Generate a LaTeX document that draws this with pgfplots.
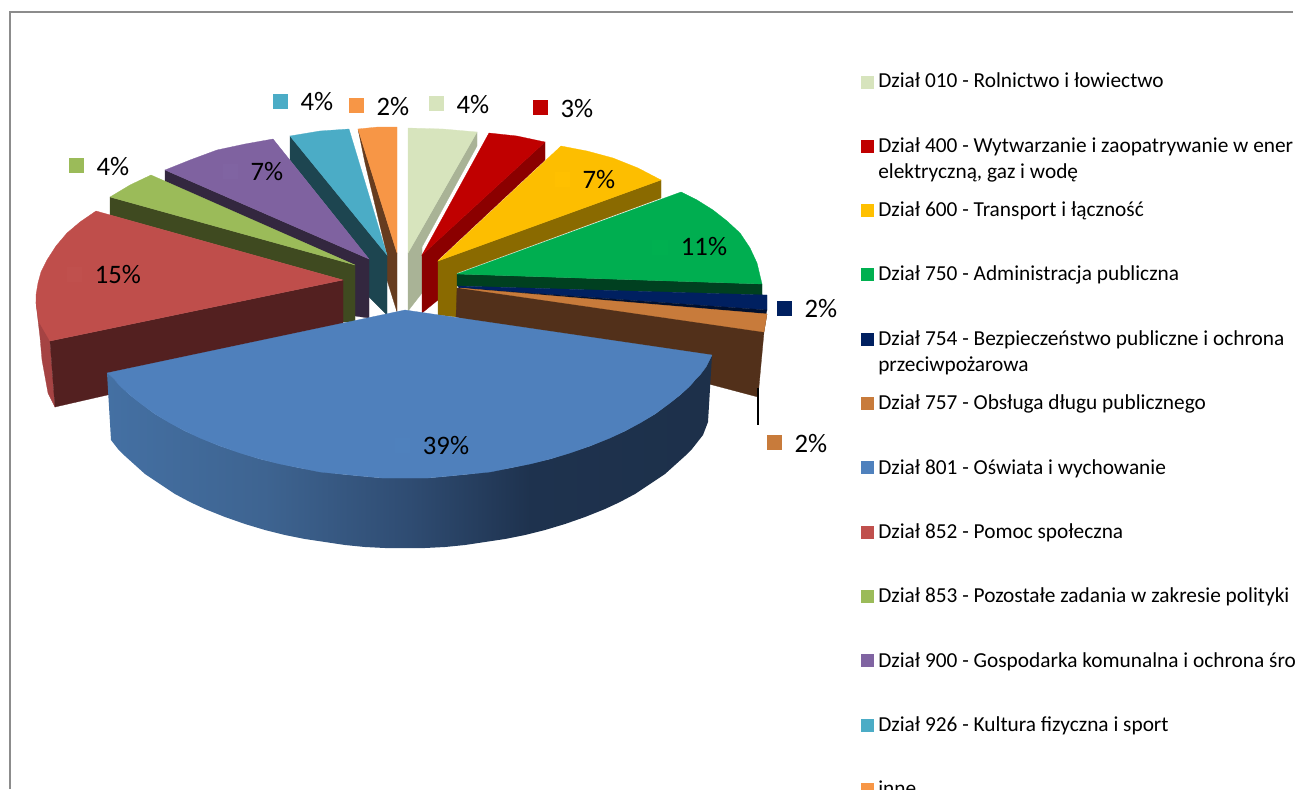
\documentclass[border=0pt]{standalone}
\usepackage{pgfplots}
\pgfplotsset{compat=1.18}
\usepackage{fontspec}
\setmainfont{Carlito}
\definecolor{cA}{HTML}{D7E4BD}\definecolor{cAd}{HTML}{A9B396}
\definecolor{cB}{HTML}{C00000}\definecolor{cBd}{HTML}{8B0000}
\definecolor{cC}{HTML}{FFC000}\definecolor{cCt}{HTML}{FDBE00}\definecolor{cCd}{HTML}{8A6A00}
\definecolor{cD}{HTML}{00B050}\definecolor{cDt}{HTML}{00AE50}\definecolor{cDd}{HTML}{004020}
\definecolor{cE}{HTML}{002060}\definecolor{cEd}{HTML}{00102F}
\definecolor{cF}{HTML}{C87B3B}\definecolor{cFd}{HTML}{52301A}
\definecolor{cG}{HTML}{4F81BD}\definecolor{cGt}{HTML}{4F80BC}
\definecolor{cH}{HTML}{C0504D}\definecolor{cHt}{HTML}{BF4E4B}\definecolor{cHd}{HTML}{532020}\definecolor{cHs}{HTML}{A54343}
\definecolor{cI}{HTML}{9BBB59}\definecolor{cId}{HTML}{3F4A20}
\definecolor{cJ}{HTML}{8064A2}\definecolor{cJt}{HTML}{7F62A0}\definecolor{cJd}{HTML}{33273F}
\definecolor{cK}{HTML}{4BACC6}\definecolor{cKd}{HTML}{1D4550}
\definecolor{cL}{HTML}{F79646}\definecolor{cLd}{HTML}{663C1F}
\definecolor{frame}{HTML}{8C8C8C}
\definecolor{bsa}{RGB}{68,112,163}
\definecolor{bsb}{RGB}{62,100,145}
\definecolor{bsc}{RGB}{47,76,114}
\definecolor{bsd}{RGB}{30,50,78}
\definecolor{bse}{RGB}{29,48,74}
\pgfdeclarehorizontalshading{blueside}{100bp}{
 color(0bp)=(bsa);
 color(25bp)=(bsa);
 color(38bp)=(bsb);
 color(50bp)=(bsc);
 color(60bp)=(bsd);
 color(75bp)=(bse);
 color(100bp)=(bse)}
\newcommand{\poly}[2]{\addplot[fill=#1,draw=#1,line width=0.2pt,no marks,forget plot] coordinates {#2} -- cycle;}
\newcommand{\key}[3]{\addplot[#1,only marks,mark=square*,mark size=#3,mark options={fill=#1,draw=#1,line width=0pt},forget plot] coordinates {#2};}
\newcommand{\lab}[2]{\node[font=\fontsize{20}{24}\selectfont,anchor=center,inner sep=0pt] at (#1) {#2};}
\newcommand{\leg}[2]{\node[font=\fontsize{16}{19}\selectfont,anchor=base west,inner sep=0pt] at (#1) {#2};}
\begin{document}
\begin{tikzpicture}
\useasboundingbox (0,0) rectangle (973.5pt,591.75pt);
\begin{axis}[at={(0,0)},anchor=south west,scale only axis,width=973.5pt,height=591.75pt,
 xmin=0,xmax=1298,ymin=0,ymax=789,y dir=reverse,axis lines=none,clip=true]
% frame
\addplot[frame,line width=1.5pt,no marks,forget plot] coordinates {(10,789) (10,11.5) (1293,11.5)};
% left-hand slices, far to near
\poly{cLd}{(358,129) (397,253) (397,312) (387,280) (387,255) (365,163)}
\poly{cL}{(358,129) (378,127) (397,127) (397,253)}
\poly{cKd}{(290,136) (387,255) (387,315) (369,297) (369,259) (290,160)}
\poly{cK}{(290,136) (320,131) (349,129) (387,255)}
\poly{cJd}{(165,170) (369,259) (369,318) (355,316) (355,265) (165,182)}
\poly{cJt}{(165,170) (190,160) (217,150) (245,144) (273,139) (369,259)}
\poly{cId}{(110,197) (355,265) (355,322) (343,322) (343,280) (110,215)}
\poly{cI}{(110,197) (130,185) (151,175) (355,265)}
\poly{cHs}{(36,303) (40,337) (42,360) (48,393) (55,407) (50,341)}
\poly{cHd}{(50,341) (343,280) (343,341) (55,407)}
\poly{cHt}{(96,211) (80,222) (67,233) (56,246) (47,260) (41,272) (38,283) (36,295) (36,303) (39,322) (50,341) (343,280)}
% right-hand slices
\poly{cAd}{(408,253) (477,132) (477,146) (422,247) (422,293) (408,311)}
\poly{cA}{(408,128) (443,129) (477,132) (408,253)}
\poly{cBd}{(422,255) (545,142) (545,160) (438,260) (438,300) (422,313)}
\poly{cB}{(489,133) (517,136) (545,142) (422,255)}
\poly{cCd}{(438,261) (661,180) (661,198) (457,273) (457,317) (438,315)}
\poly{cCt}{(561,146) (587,151) (613,158) (638,168) (661,180) (438,261)}
\poly{cDd}{(457,274) (762,284) (762,295) (457,286)}
\poly{cDt}{(681,192) (697,200) (713,210) (727,221) (740,233) (750,248) (757,263) (762,284) (457,274)}
\poly{cE}{(458,286) (767,295) (767,310) (459,288)}
\poly{cEd}{(459,288) (767,310) (766,314) (460,289)}
\poly{cFd}{(457,288) (460,288) (767,314) (764,332) (758,397) (456,317)}
\poly{cF}{(460,288) (767,314) (764,332)}
% leader line
\addplot[black,line width=1pt,no marks,forget plot] coordinates {(758,388) (758,425)};
% blue slice: outer side, then top
\addplot[shading=blueside,draw=none,no marks,forget plot] coordinates {(107,373) (111,440) (118,449) (125,456) (135,465) (145,474) (160,484) (175,494) (190,502) (205,509) (225,517) (245,524) (265,530) (285,535) (305,539) (325,542) (345,545) (365,547) (385,548) (405,548) (425,548) (445,547) (465,545) (485,542) (505,539) (525,535) (545,530) (565,524) (585,517) (605,509) (620,502) (635,494) (650,484) (665,474) (675,465) (685,456) (692,449) (703,435) (708,422) (712,355) (706,367) (695,380) (680,395) (655,414) (625,431) (590,446) (550,459) (510,468) (470,474) (428,478) (382,478) (340,474) (300,468) (260,459) (220,446) (185,431) (155,414) (130,395) (113,378)} -- cycle;
\poly{cGt}{(405,310) (712,355) (706,367) (700,375) (695,380) (690,386) (680,395) (670,403) (655,414) (640,423) (625,431) (610,438) (590,446) (570,453) (550,459) (530,464) (510,468) (490,472) (470,474) (450,476) (428,478) (405,478) (382,478) (360,476) (340,474) (320,472) (300,468) (280,464) (260,459) (240,453) (220,446) (200,438) (185,431) (170,423) (155,414) (140,403) (130,395) (120,386) (113,378) (107,373)}
% faint keys under the labels inside slices
\key{cJ}{(230.5,171.5)}{5.6pt}
\key{cH}{(74.5,274.5)}{5.6pt}
\key{cC}{(562.5,179.5)}{5.6pt}
\key{cD}{(660,247.5)}{5.6pt}
\key{cG}{(402.5,445.5)}{5.6pt}
% data-label keys
\key{cK}{(280.5,101.5)}{5.6pt}
\key{cL}{(356.5,105.5)}{5.6pt}
\key{cA}{(436.5,103.5)}{5.6pt}
\key{cB}{(540.5,107.5)}{5.6pt}
\key{cE}{(784.5,308.5)}{5.6pt}
\key{cF}{(774.5,442.5)}{5.6pt}
\key{cI}{(76.5,165.5)}{5.6pt}
\lab{317,102}{4\%}
\lab{393,107}{2\%}
\lab{473,105}{4\%}
\lab{577,109}{3\%}
\lab{821,309}{2\%}
\lab{811,444}{2\%}
\lab{113,167}{4\%}
\lab{267,172}{7\%}
\lab{118,275}{15\%}
\lab{599,180}{7\%}
\lab{704,247}{11\%}
\lab{446,446}{39\%}
% legend
\key{cA}{(867,82)}{4.5pt}
\key{cB}{(867,146)}{4.5pt}
\key{cC}{(867,210)}{4.5pt}
\key{cD}{(867,274)}{4.5pt}
\key{cE}{(867,339)}{4.5pt}
\key{cF}{(867,403)}{4.5pt}
\key{cG}{(867,467)}{4.5pt}
\key{cH}{(867,532)}{4.5pt}
\key{cI}{(867,596)}{4.5pt}
\key{cJ}{(867,660)}{4.5pt}
\key{cK}{(867,725)}{4.5pt}
\key{cL}{(867,789)}{4.5pt}
\leg{878,87}{Dział 010 - Rolnictwo i łowiectwo}
\leg{878,152}{Dział 400 - Wytwarzanie i zaopatrywanie w ener}
\leg{878,178}{elektryczną, gaz i wodę}
\leg{878,216}{Dział 600 - Transport i łączność}
\leg{878,280}{Dział 750 - Administracja publiczna}
\leg{878,345}{Dział 754 - Bezpieczeństwo publiczne i ochrona}
\leg{878,371}{przeciwpożarowa}
\leg{878,409}{Dział 757 - Obsługa długu publicznego}
\leg{878,474}{Dział 801 - Oświata i wychowanie}
\leg{878,538}{Dział 852 - Pomoc społeczna}
\leg{878,602}{Dział 853 - Pozostałe zadania w zakresie polityki}
\leg{878,667}{Dział 900 - Gospodarka komunalna i ochrona śro}
\leg{878,731}{Dział 926 - Kultura fizyczna i sport}
\leg{878,795}{inne}
\end{axis}
\end{tikzpicture}
\end{document}
